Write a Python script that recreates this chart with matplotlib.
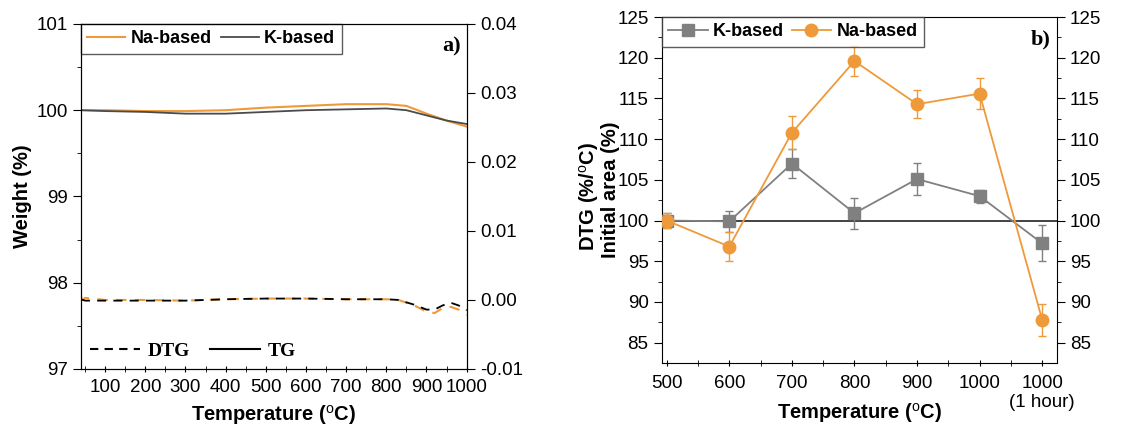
import matplotlib
matplotlib.use("Agg")
import matplotlib.pyplot as plt
from matplotlib.lines import Line2D

plt.rcParams['font.family'] = ['Liberation Sans', 'DejaVu Sans']
plt.rcParams['mathtext.fontset'] = 'custom'
plt.rcParams['mathtext.rm'] = 'Liberation Sans'

orange = '#EE9A3A'
dark = '#4B4B4B'
grey = '#808080'

# panel a) TG curves
temp_tg = [40, 100, 200, 300, 400, 500, 600, 700, 800, 850, 900, 950, 1000]
na_tg = [100.0, 100.0, 99.99, 99.99, 100.0, 100.03, 100.05, 100.07, 100.07, 100.05, 99.96, 99.88, 99.81]
k_tg = [100.0, 99.99, 99.98, 99.96, 99.96, 99.98, 100.0, 100.01, 100.02, 100.0, 99.94, 99.88, 99.84]

# panel a) DTG curves
temp_dtg = [40, 45, 50, 100, 200, 300, 400, 500, 600, 700, 800, 830, 870, 900, 920, 940, 960, 980, 1000]
na_dtg = [0.0004, 0.0, 0.0003, 0.0, 0.0, -0.0001, 0.0001, 0.0002, 0.0002, 0.0001, 0.0001, 0.0,
          -0.0008, -0.0017, -0.0019, -0.0012, -0.0010, -0.0014, -0.0022]
k_dtg = [0.0, 0.0, -0.0001, -0.0001, -0.0001, -0.0001, 0.0001, 0.0002, 0.0002, 0.0001, 0.0001, 0.0,
         -0.0007, -0.0014, -0.0014, -0.0008, -0.0004, -0.0008, -0.0015]

# panel b) initial area
temp_b = [500, 600, 700, 800, 900, 1000, 1100]
temp_b_labels = ['500', '600', '700', '800', '900', '1000', '1000\n(1 hour)']
k_area = [100.0, 99.9, 107.0, 100.9, 105.1, 103.0, 97.2]
k_err = [0.9, 1.3, 1.8, 1.9, 2.0, 0.8, 2.2]
na_area = [100.0, 96.8, 110.8, 119.6, 114.3, 115.6, 87.8]
na_err = [0.9, 1.8, 2.0, 1.8, 1.7, 1.9, 2.0]

fig = plt.figure(figsize=(11.41, 4.28), dpi=100)

tick_fs = 13.5
label_fs = 14.5
deg = '($^{\\rm o}$C)'

# ---------- panel a ----------
ax1 = fig.add_axes([0.071, 0.138, 0.338, 0.806])
ax1.plot(temp_tg, na_tg, color=orange, lw=1.5, label='Na-based')
ax1.plot(temp_tg, k_tg, color=dark, lw=1.3, label='K-based')
ax1.set_xlim(40, 1000)
ax1.set_ylim(97, 101)
ax1.set_xticks(range(100, 1001, 100))
ax1.set_xticks(range(50, 1001, 50), minor=True)
ax1.set_yticks([97, 98, 99, 100, 101])
ax1.set_yticks([97.5, 98.5, 99.5, 100.5], minor=True)
ax1.tick_params(axis='x', which='both', direction='inout', labelsize=tick_fs, length=5, pad=5)
ax1.tick_params(axis='y', which='major', direction='out', labelsize=tick_fs, length=6)
ax1.tick_params(axis='y', which='minor', direction='out', length=3)
ax1.set_ylabel('Weight (%)', fontsize=label_fs, fontweight='bold')
ax1.yaxis.set_label_coords(-0.127, 0.5)
ax1.set_xlabel('Temperature ' + deg, fontsize=label_fs, fontweight='bold')
ax1.xaxis.set_label_coords(0.5, -0.10)
leg1 = ax1.legend(loc='upper left', ncol=2, frameon=True, fancybox=False, borderaxespad=0,
                  prop={'weight': 'bold', 'size': 13}, handlelength=2.1, columnspacing=0.5,
                  handletextpad=0.3, borderpad=0.35)
leg1.get_frame().set_edgecolor('#333333')
leg1.get_frame().set_linewidth(1.0)
ax1.text(0.985, 0.965, 'a)', transform=ax1.transAxes, ha='right', va='top',
         fontsize=16, fontweight='bold', family='Liberation Serif')

ax1b = ax1.twinx()
ax1b.plot(temp_dtg, na_dtg, color=orange, lw=1.5, ls=(0, (5, 4)))
ax1b.plot(temp_dtg, k_dtg, color='black', lw=1.3, ls=(0, (5, 4)))
ax1b.set_ylim(-0.01, 0.04)
ax1b.set_yticks([-0.01, 0.0, 0.01, 0.02, 0.03, 0.04])
ax1b.set_yticklabels(['-0.01', '0.00', '0.01', '0.02', '0.03', '0.04'])
ax1b.tick_params(axis='y', direction='out', labelsize=tick_fs, length=6)
ax1b.set_ylabel('DTG (%/$^{\\rm o}$C)', fontsize=label_fs, fontweight='bold')
ax1b.yaxis.set_label_coords(1.285, 0.5)

style_handles = [Line2D([], [], color='black', lw=1.5, ls=(0, (4, 3))),
                 Line2D([], [], color='black', lw=1.5)]
ax1b.legend(style_handles, ['DTG', 'TG'], loc='lower left', ncol=2, frameon=False,
            prop={'family': 'Liberation Serif', 'weight': 'bold', 'size': 14},
            handlelength=2.6, columnspacing=1.0, handletextpad=0.4, borderaxespad=0.05)

# ---------- panel b ----------
ax2 = fig.add_axes([0.580, 0.152, 0.346, 0.808])
ax2.axhline(100, color='#222222', lw=1.2, zorder=1)
ax2.errorbar(temp_b, k_area, yerr=k_err, color=grey, marker='s', ms=8, lw=1.3,
             capsize=3, elinewidth=1.0, zorder=3)
ax2.errorbar(temp_b, na_area, yerr=na_err, color=orange, marker='o', ms=9, lw=1.3,
             capsize=3, elinewidth=1.0, zorder=4)
ax2.set_xlim(492, 1123)
ax2.set_ylim(82.5, 125)
ax2.set_xticks(temp_b)
ax2.set_xticklabels(temp_b_labels)
ax2.set_xticks([550, 650, 750, 850, 950, 1050], minor=True)
ax2.set_yticks(range(85, 126, 5))
ax2.set_yticks([87.5, 92.5, 97.5, 102.5, 107.5, 112.5, 117.5, 122.5], minor=True)
ax2.tick_params(axis='x', which='both', direction='inout', labelsize=tick_fs, length=5, pad=6)
ax2.tick_params(axis='y', which='major', direction='out', labelsize=tick_fs, length=6,
                right=True, labelright=True)
ax2.tick_params(axis='y', which='minor', direction='out', length=3, right=True)
ax2.set_ylabel('Initial area (%)', fontsize=label_fs, fontweight='bold')
ax2.yaxis.set_label_coords(-0.106, 0.5)
ax2.set_xlabel('Temperature ' + deg, fontsize=label_fs, fontweight='bold')
ax2.xaxis.set_label_coords(0.5, -0.11)
b_handles = [Line2D([], [], color=grey, marker='s', ms=8, lw=1.3),
             Line2D([], [], color=orange, marker='o', ms=9, lw=1.3)]
leg2 = ax2.legend(b_handles, ['K-based', 'Na-based'], loc='upper left', ncol=2, frameon=True,
                  fancybox=False, borderaxespad=0, prop={'weight': 'bold', 'size': 13},
                  handlelength=2.2, columnspacing=0.4, handletextpad=0.3, borderpad=0.35)
leg2.get_frame().set_edgecolor('#333333')
leg2.get_frame().set_linewidth(1.0)
ax2.text(0.985, 0.965, 'b)', transform=ax2.transAxes, ha='right', va='top',
         fontsize=16, fontweight='bold', family='Liberation Serif')

fig.savefig('out.png', dpi=100)
